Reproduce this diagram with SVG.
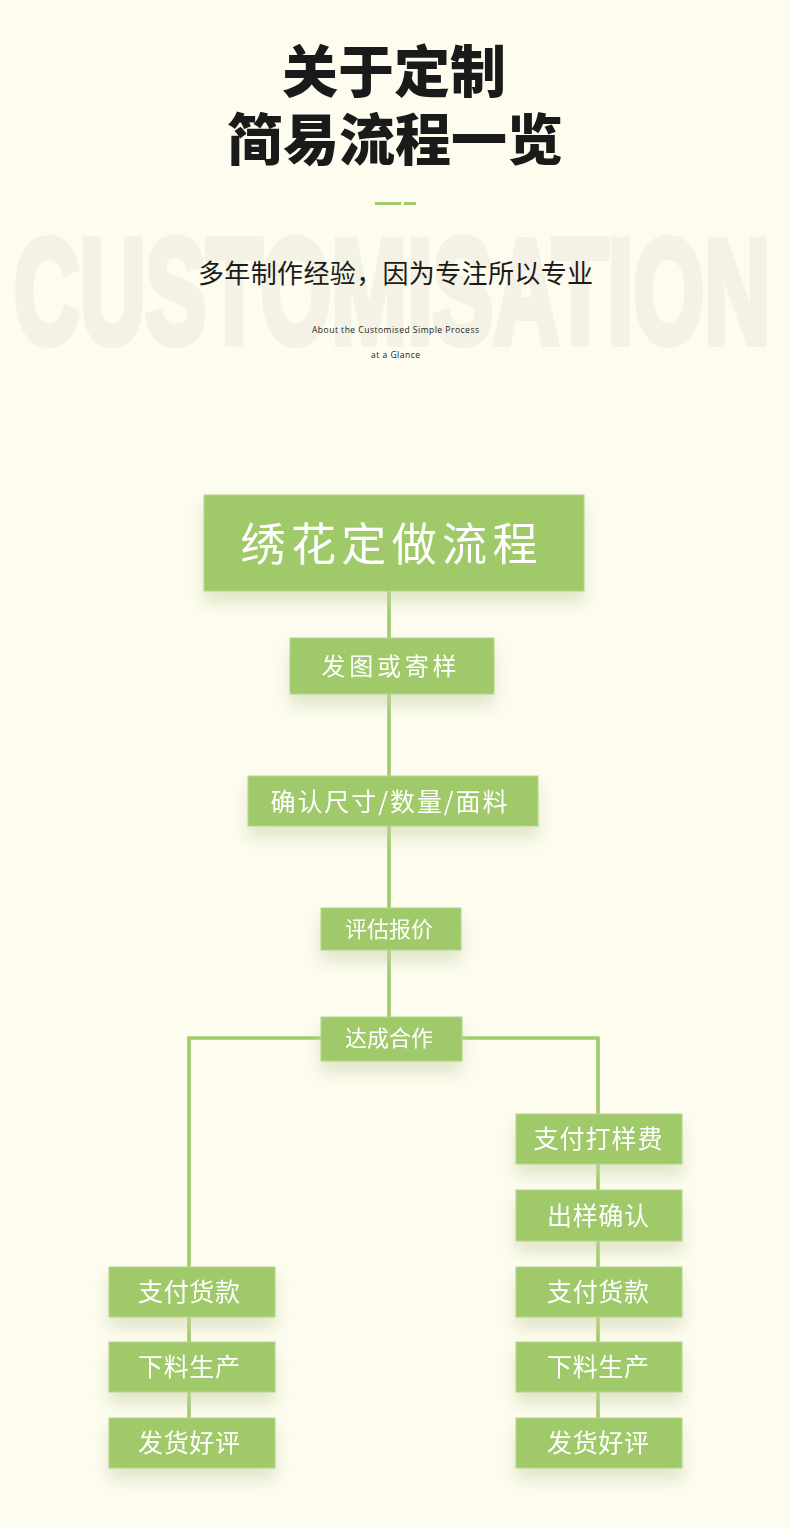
<svg xmlns="http://www.w3.org/2000/svg" width="790" height="1528" viewBox="0 0 790 1528">
  <defs>
    <filter id="sh" x="-30%" y="-30%" width="160%" height="190%">
      <feGaussianBlur in="SourceAlpha" stdDeviation="8"/>
      <feOffset dx="0" dy="11" result="b"/>
      <feFlood flood-color="#c9d3a8" flood-opacity="0.55"/>
      <feComposite in2="b" operator="in"/>
      <feMerge><feMergeNode/><feMergeNode in="SourceGraphic"/></feMerge>
    </filter>
    <style>
      .box { fill: #a0ca6b; stroke: #b4d68c; stroke-width: 1; }
      .lbl { fill: #ffffff; font-family: "Noto Sans CJK SC", "Noto Sans", sans-serif; font-weight: 400; text-anchor: middle; }
      .ln { stroke: #a0ca6b; stroke-width: 3.6; fill: none; }
      .ttl { fill: #1a1a1a; font-family: "Noto Sans CJK SC", sans-serif; font-weight: 900; text-anchor: middle; font-size: 56px; }
    </style>
  </defs>
  <rect x="0" y="0" width="790" height="1528" fill="#fdfcef"/>

  <g id="header">
    <text x="14" y="343" font-family="'Liberation Sans', Arial, sans-serif" font-weight="700" font-size="148" fill="#f3f2e5" stroke="#f3f2e5" stroke-width="8" stroke-linejoin="miter" textLength="756" lengthAdjust="spacingAndGlyphs">CUSTOMISATION</text>
    <text class="ttl" x="394" y="92">关于定制</text>
    <text class="ttl" x="395" y="160">简易流程一览</text>
    <rect x="375" y="202" width="26" height="3" fill="#a0ca6b"/>
    <rect x="404" y="202" width="12" height="3" fill="#a0ca6b"/>
    <text x="395.5" y="283" font-family="Noto Sans CJK SC, sans-serif" font-size="26" fill="#1a1a1a" text-anchor="middle" textLength="395" lengthAdjust="spacing">多年制作经验，因为专注所以专业</text>
    <text x="395.5" y="333" font-family="Open Sans, sans-serif" font-size="8.5" fill="#1a1a1a" text-anchor="middle" textLength="167" lengthAdjust="spacing">About the Customised Simple Process</text>
    <text x="395.5" y="358" font-family="Open Sans, sans-serif" font-size="8.5" fill="#1a1a1a" text-anchor="middle" textLength="49" lengthAdjust="spacing">at a Glance</text>
  </g>

  <g id="connectors">
    <line class="ln" x1="389" y1="591" x2="389" y2="1017"/>
    <polyline class="ln" points="189,1267 189,1038 321,1038"/>
    <polyline class="ln" points="462,1038 598,1038 598,1114"/>
    <line class="ln" x1="598" y1="1164" x2="598" y2="1418"/>
    <line class="ln" x1="189" y1="1317" x2="189" y2="1418"/>
  </g>

  <g id="n-main" filter="url(#sh)">
    <rect class="box" x="204" y="495" width="380" height="96"/>
    <text class="lbl" x="389" y="561" font-size="45" font-weight="300" textLength="297" lengthAdjust="spacing">绣花定做流程</text>
  </g>
  <g id="n-send" filter="url(#sh)">
    <rect class="box" x="290" y="638" width="204" height="56"/>
    <text class="lbl" x="389" y="675" font-size="24" textLength="135" lengthAdjust="spacing">发图或寄样</text>
  </g>
  <g id="n-confirm" filter="url(#sh)">
    <rect class="box" x="248" y="776" width="290" height="50"/>
    <text class="lbl" x="389" y="811" font-size="25" textLength="237" lengthAdjust="spacing">确认尺寸/数量/面料</text>
  </g>
  <g id="n-quote" filter="url(#sh)">
    <rect class="box" x="321" y="908" width="140" height="42"/>
    <text class="lbl" x="389" y="937" font-size="22" textLength="88" lengthAdjust="spacing">评估报价</text>
  </g>
  <g id="n-deal" filter="url(#sh)">
    <rect class="box" x="321" y="1017" width="141" height="44"/>
    <text class="lbl" x="389" y="1046" font-size="22" textLength="88" lengthAdjust="spacing">达成合作</text>
  </g>

  <g id="n-r1" filter="url(#sh)">
    <rect class="box" x="516" y="1114" width="166" height="50"/>
    <text class="lbl" x="598" y="1148" font-size="25" textLength="129" lengthAdjust="spacing">支付打样费</text>
  </g>
  <g id="n-r2" filter="url(#sh)">
    <rect class="box" x="516" y="1190" width="166" height="51"/>
    <text class="lbl" x="598" y="1225" font-size="25" textLength="102" lengthAdjust="spacing">出样确认</text>
  </g>
  <g id="n-r3" filter="url(#sh)">
    <rect class="box" x="516" y="1267" width="166" height="50"/>
    <text class="lbl" x="598" y="1301" font-size="25" textLength="102" lengthAdjust="spacing">支付货款</text>
  </g>
  <g id="n-r4" filter="url(#sh)">
    <rect class="box" x="516" y="1342" width="166" height="50"/>
    <text class="lbl" x="598" y="1376" font-size="25" textLength="102" lengthAdjust="spacing">下料生产</text>
  </g>
  <g id="n-r5" filter="url(#sh)">
    <rect class="box" x="516" y="1418" width="166" height="50"/>
    <text class="lbl" x="598" y="1452" font-size="25" textLength="102" lengthAdjust="spacing">发货好评</text>
  </g>

  <g id="n-l1" filter="url(#sh)">
    <rect class="box" x="109" y="1267" width="166" height="50"/>
    <text class="lbl" x="189" y="1301" font-size="25" textLength="102" lengthAdjust="spacing">支付货款</text>
  </g>
  <g id="n-l2" filter="url(#sh)">
    <rect class="box" x="109" y="1342" width="166" height="50"/>
    <text class="lbl" x="189" y="1376" font-size="25" textLength="102" lengthAdjust="spacing">下料生产</text>
  </g>
  <g id="n-l3" filter="url(#sh)">
    <rect class="box" x="109" y="1418" width="166" height="50"/>
    <text class="lbl" x="189" y="1452" font-size="25" textLength="102" lengthAdjust="spacing">发货好评</text>
  </g>
</svg>
